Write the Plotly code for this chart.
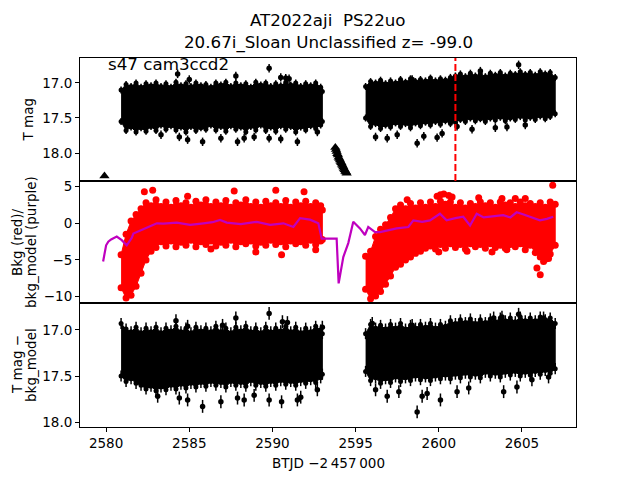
import plotly.graph_objects as go
from plotly.subplots import make_subplots

# ---------------- data ----------------
seg1_t = [2580.9, 2581.2, 2581.5, 2581.8, 2582.1, 2582.4, 2582.7, 2583.0, 2583.3, 2583.6,
          2583.9, 2584.2, 2584.5, 2584.8, 2585.1, 2585.4, 2585.7, 2586.0, 2586.3, 2586.6,
          2586.9, 2587.2, 2587.5, 2587.8, 2588.1, 2588.4, 2588.7, 2589.0, 2589.3, 2589.6,
          2589.9, 2590.2, 2590.5, 2590.8, 2591.1, 2591.4, 2591.7, 2592.0, 2592.3, 2592.6,
          2592.9, 2593.0]
seg2_t = [2595.6, 2595.9, 2596.2, 2596.5, 2596.8, 2597.1, 2597.4, 2597.7, 2598.0, 2598.3,
          2598.6, 2598.9, 2599.2, 2599.5, 2599.8, 2600.1, 2600.4, 2600.7, 2601.0, 2601.3,
          2601.6, 2601.9, 2602.2, 2602.5, 2602.8, 2603.1, 2603.4, 2603.7, 2604.0, 2604.3,
          2604.6, 2604.9, 2605.2, 2605.5, 2605.8, 2606.1, 2606.4, 2606.7, 2607.0]

# Panel 1: T mag envelope (bright edge / faint edge)
tmag1_hi = [17.10, 17.02, 17.05, 17.00, 17.06, 17.01, 17.04, 17.00, 17.05, 17.01,
            17.06, 16.99, 17.04, 17.01, 17.05, 17.00, 17.04, 17.02, 17.06, 17.00,
            17.03, 16.99, 17.05, 17.00, 17.04, 17.01, 17.06, 16.99, 17.03, 17.00,
            17.05, 17.01, 17.04, 16.99, 17.03, 17.00, 17.05, 17.01, 17.04, 17.00,
            17.06, 17.12]
tmag1_lo = [17.55, 17.68, 17.63, 17.70, 17.64, 17.69, 17.62, 17.68, 17.60, 17.66,
            17.61, 17.67, 17.63, 17.70, 17.62, 17.68, 17.64, 17.66, 17.60, 17.67,
            17.62, 17.69, 17.61, 17.66, 17.63, 17.70, 17.62, 17.67, 17.60, 17.68,
            17.63, 17.69, 17.61, 17.66, 17.62, 17.70, 17.63, 17.67, 17.61, 17.65,
            17.60, 17.55]
tmag2_hi = [17.05, 16.98, 17.00, 16.96, 17.01, 16.97, 17.00, 16.95, 16.99, 16.94,
            16.98, 16.95, 16.97, 16.93, 16.97, 16.94, 16.96, 16.92, 16.90, 16.87,
            16.91, 16.86, 16.90, 16.87, 16.91, 16.86, 16.89, 16.85, 16.90, 16.86,
            16.88, 16.84, 16.88, 16.85, 16.89, 16.84, 16.87, 16.85, 16.92]
tmag2_lo = [17.50, 17.62, 17.58, 17.65, 17.60, 17.63, 17.57, 17.62, 17.58, 17.64,
            17.57, 17.61, 17.56, 17.60, 17.55, 17.59, 17.54, 17.58, 17.56, 17.52,
            17.55, 17.50, 17.54, 17.51, 17.55, 17.50, 17.53, 17.49, 17.54, 17.50,
            17.52, 17.48, 17.53, 17.49, 17.52, 17.47, 17.51, 17.48, 17.44]
tmag_out_t = [2584.3, 2587.8, 2589.8, 2590.5, 2590.8, 2591.0, 2585.0, 2604.8, 2602.5, 2598.4,
              2583.3, 2584.4, 2584.9, 2585.8, 2586.9, 2587.9, 2588.3, 2588.9, 2589.8, 2590.5,
              2591.5, 2592.7, 2596.2, 2596.9, 2597.5, 2598.7, 2599.1, 2599.9, 2600.2, 2601.1,
              2602.0, 2603.4, 2604.1, 2605.2]
tmag_out_v = [16.87, 16.90, 16.79, 16.92, 16.93, 16.94, 16.95, 16.74, 16.83, 16.95,
              17.74, 17.77, 17.81, 17.84, 17.79, 17.84, 17.79, 17.77, 17.79, 17.80,
              17.84, 17.70, 17.77, 17.79, 17.74, 17.86, 17.76, 17.78, 17.72, 17.62,
              17.66, 17.64, 17.63, 17.60]
lim_single_t = [2579.9]
lim_single_v = [18.33]
lim_run_t = [2593.78, 2593.82, 2593.86, 2593.90, 2593.94, 2593.98, 2594.02, 2594.06, 2594.10,
             2594.14, 2594.18, 2594.22, 2594.26, 2594.30, 2594.34, 2594.38, 2594.42, 2594.46]
lim_run_v = [17.92, 17.95, 17.98, 18.01, 18.03, 18.06, 18.08, 18.10, 18.12,
             18.14, 18.16, 18.18, 18.20, 18.22, 18.24, 18.26, 18.27, 18.29]
event_t = 2601.0

# Panel 2: background (red) envelope and model (purple)
bkg1_hi = [-4.3, -1.5, 0.3, 1.2, 2.0, 2.8, 2.4, 3.2, 2.3, 2.9,
           2.2, 3.1, 2.4, 2.8, 2.2, 3.0, 2.5, 3.2, 2.3, 2.9,
           2.4, 3.1, 2.2, 2.8, 2.5, 3.2, 2.3, 2.9, 2.2, 3.0,
           2.4, 2.8, 2.3, 3.1, 2.2, 2.9, 2.4, 3.0, 2.3, 2.8,
           2.4, 1.8]
bkg1_lo = [-8.8, -10.2, -9.8, -8.6, -6.8, -5.0, -3.8, -3.3, -2.5, -3.1,
           -2.4, -3.2, -2.6, -3.0, -2.3, -3.2, -2.5, -2.9, -2.4, -3.1,
           -2.6, -3.0, -2.3, -3.2, -2.5, -2.8, -2.4, -3.1, -2.6, -3.0,
           -2.3, -2.9, -2.5, -3.2, -2.4, -2.8, -2.5, -3.0, -2.3, -2.9,
           -2.4, -2.2]
bkg2_hi = [-4.5, -3.8, -1.8, -0.8, -0.2, 0.8, 2.0, 2.5, 2.0, 2.7,
           2.1, 2.8, 2.2, 2.9, 2.3, 3.0, 2.6, 2.9, 2.2, 2.8,
           2.1, 2.7, 2.3, 2.9, 2.4, 2.8, 2.2, 2.9, 2.5, 2.8,
           2.3, 2.9, 2.4, 2.7, 2.3, 2.8, 2.2, 2.9, 2.6]
bkg2_lo = [-9.0, -10.3, -9.9, -9.3, -8.3, -7.2, -6.0, -5.6, -5.0, -4.6,
           -4.1, -3.8, -3.4, -3.1, -3.5, -2.9, -3.4, -2.8, -3.3, -2.9,
           -3.5, -2.8, -3.2, -2.9, -3.4, -2.8, -3.3, -3.0, -3.4, -2.9,
           -3.2, -2.8, -3.6, -3.0, -4.0, -4.6, -4.9, -4.2, -3.0]
bkg_out_t = [2582.3, 2582.8, 2587.7, 2590.2, 2591.9, 2584.9, 2589.0, 2590.55, 2592.6, 2586.3,
             2599.9, 2600.1, 2600.3, 2600.6, 2600.8, 2598.1, 2602.4, 2603.8, 2604.6, 2605.2,
             2606.85, 2605.9, 2606.1, 2606.3, 2606.6, 2600.0, 2601.7, 2603.2, 2604.1]
bkg_out_v = [4.3, 4.5, 4.4, 4.5, 4.3, 3.7, -3.9, -4.3, -3.6, -3.5,
             3.7, 3.9, 4.0, 3.8, 3.6, 3.2, 3.5, 3.4, 3.4, 3.4,
             5.2, -6.1, -7.0, -5.2, -4.8, -3.9, -3.8, -3.9, -3.6]
model_t = [2579.82, 2579.88, 2580.0, 2580.13, 2580.3, 2580.64, 2580.94, 2581.24, 2581.54, 2581.64,
           2582.04, 2582.54, 2583.05, 2583.44, 2584.25, 2585.05, 2585.85, 2586.4, 2586.85, 2587.25,
           2588.1, 2589.06, 2589.86, 2590.66, 2591.26, 2591.66, 2592.26, 2592.76, 2592.96, 2593.86,
           2593.98, 2594.26, 2594.56, 2594.86, 2595.26, 2595.56, 2595.76, 2596.17, 2596.47, 2597.0,
           2597.47, 2598.17, 2598.47, 2599.0, 2599.47, 2600.07, 2600.47, 2601.0, 2601.47, 2601.88,
           2602.28, 2602.7, 2603.08, 2603.88, 2604.3, 2604.68, 2605.1, 2605.48, 2606.08, 2606.5,
           2606.88]
model_v = [-5.2, -4.3, -3.0, -2.5, -2.2, -1.8, -2.3, -3.0, -2.0, -1.4,
           -0.95, -0.5, 0.0, -0.05, 0.1, -0.2, 0.0, 0.15, 0.45, 0.1,
           -0.1, 0.2, -0.2, 0.0, -0.5, 0.7, 0.5, 0.0, -2.1, -2.1,
           -8.2, -4.6, -2.7, 0.2, -0.7, -1.6, -0.5, -1.2, -1.2, -0.9,
           -0.7, -0.5, 0.4, 0.2, 0.4, 1.3, 0.4, 0.7, 0.9, -0.3,
           1.3, 0.8, 0.9, 1.1, 0.8, 1.5, 1.2, 0.9, 0.4, 0.6,
           0.9]

# Panel 3: T mag - bkg_model envelope
diff1_hi = [16.93, 16.99, 17.02, 16.97, 17.03, 16.98, 17.02, 16.97, 17.03, 16.98,
            17.01, 16.96, 17.02, 16.98, 17.03, 16.97, 17.01, 16.98, 17.02, 16.96,
            17.02, 16.98, 17.03, 16.97, 17.01, 16.96, 17.02, 16.98, 17.03, 16.97,
            17.02, 16.98, 17.01, 16.96, 17.02, 16.97, 17.03, 16.98, 17.02, 16.96,
            17.00, 17.04]
diff1_lo = [17.50, 17.56, 17.53, 17.58, 17.60, 17.64, 17.61, 17.66, 17.62, 17.65,
            17.60, 17.64, 17.59, 17.63, 17.58, 17.62, 17.57, 17.61, 17.56, 17.60,
            17.57, 17.62, 17.56, 17.60, 17.57, 17.61, 17.55, 17.60, 17.57, 17.61,
            17.56, 17.60, 17.55, 17.59, 17.56, 17.60, 17.55, 17.58, 17.54, 17.57,
            17.52, 17.48]
diff2_hi = [17.04, 16.94, 16.98, 16.95, 16.99, 16.94, 16.98, 16.93, 16.99, 16.95,
            16.98, 16.94, 16.97, 16.93, 16.98, 16.94, 16.96, 16.90, 16.93, 16.89,
            16.92, 16.88, 16.93, 16.89, 16.92, 16.88, 16.91, 16.87, 16.90, 16.87,
            16.91, 16.86, 16.90, 16.87, 16.90, 16.86, 16.89, 16.87, 16.93]
diff2_lo = [17.45, 17.55, 17.52, 17.58, 17.53, 17.57, 17.51, 17.56, 17.52, 17.55,
            17.50, 17.54, 17.51, 17.55, 17.50, 17.53, 17.49, 17.53, 17.48, 17.52,
            17.47, 17.51, 17.48, 17.52, 17.46, 17.50, 17.47, 17.51, 17.46, 17.49,
            17.45, 17.50, 17.46, 17.49, 17.45, 17.48, 17.44, 17.47, 17.42]
diff_out_t = [2584.2, 2587.8, 2589.8, 2590.6, 2590.9, 2593.0, 2587.0, 2584.9, 2596.0, 2603.3,
              2603.8, 2604.8, 2606.3, 2598.4,
              2583.1, 2584.4, 2584.9, 2585.8, 2586.9, 2587.9, 2588.3, 2588.9, 2589.8, 2590.55,
              2591.5, 2591.7, 2592.7,
              2596.2, 2596.9, 2597.6, 2598.7, 2599.0, 2599.3, 2600.1, 2601.1, 2601.8, 2603.9,
              2604.7, 2605.6, 2606.6]
diff_out_v = [16.90, 16.87, 16.82, 16.91, 16.92, 16.97, 16.95, 16.96, 16.93, 16.87,
              16.86, 16.83, 16.87, 16.95,
              17.72, 17.74, 17.76, 17.83, 17.78, 17.74, 17.76, 17.71, 17.76, 17.78,
              17.76, 17.73, 17.65,
              17.65, 17.72, 17.67, 17.89, 17.72, 17.69, 17.76, 17.67, 17.63, 17.67,
              17.62, 17.54, 17.51]

# ---------------- figure ----------------
FONT = "DejaVu Sans"
BLACK = "#000000"
RED = "#ff0000"
MAG = "#bf00bf"

fig = make_subplots(rows=3, cols=1, shared_xaxes=True, vertical_spacing=0)


def band(t, hi, lo, color, row, msize, err):
    fig.add_trace(go.Scatter(x=t + t[::-1], y=hi + lo[::-1], mode="lines", fill="toself",
                             fillcolor=color, line=dict(color=color, width=1),
                             hoverinfo="skip", showlegend=False), row=row, col=1)
    fig.add_trace(go.Scatter(x=t + t, y=hi + lo, mode="markers",
                             marker=dict(color=color, size=msize, line=dict(width=0)),
                             error_y=dict(type="constant", value=err, color=color,
                                          thickness=1.5, width=0, visible=err > 0),
                             showlegend=False), row=row, col=1)


def points(t, v, color, row, msize, err):
    fig.add_trace(go.Scatter(x=t, y=v, mode="markers",
                             marker=dict(color=color, size=msize, line=dict(width=0)),
                             error_y=dict(type="constant", value=err, color=color,
                                          thickness=1.5, width=0, visible=err > 0),
                             showlegend=False), row=row, col=1)


# panel 1
band(seg1_t, tmag1_hi, tmag1_lo, BLACK, 1, 5, 0.05)
band(seg2_t, tmag2_hi, tmag2_lo, BLACK, 1, 5, 0.05)
points(tmag_out_t, tmag_out_v, BLACK, 1, 5.5, 0.06)
fig.add_trace(go.Scatter(x=lim_single_t, y=lim_single_v, mode="markers",
                         marker=dict(symbol="triangle-up", color=BLACK, size=9, line=dict(width=0)),
                         showlegend=False), row=1, col=1)
fig.add_trace(go.Scatter(x=lim_run_t, y=lim_run_v, mode="lines+markers",
                         line=dict(color=BLACK, width=5),
                         marker=dict(symbol="triangle-up", color=BLACK, size=9, line=dict(width=0)),
                         showlegend=False), row=1, col=1)

# panel 2
band(seg1_t, bkg1_hi, bkg1_lo, RED, 2, 7, 0)
band(seg2_t, bkg2_hi, bkg2_lo, RED, 2, 7, 0)
points(bkg_out_t, bkg_out_v, RED, 2, 7, 0)
fig.add_trace(go.Scatter(x=model_t, y=model_v, mode="lines",
                         line=dict(color=MAG, width=2.2), showlegend=False), row=2, col=1)

# panel 3
band(seg1_t, diff1_hi, diff1_lo, BLACK, 3, 5, 0.06)
band(seg2_t, diff2_hi, diff2_lo, BLACK, 3, 5, 0.06)
points(diff_out_t, diff_out_v, BLACK, 3, 5.5, 0.07)

# event marker
fig.add_shape(type="line", xref="x", yref="y domain", x0=event_t, x1=event_t, y0=0, y1=1,
              line=dict(color=RED, width=2, dash="7px,3px"))

# layout geometry: the page body adds an 8px offset, so the figure is 624x464
L, R, T, B = 72, 56, 50, 45
H = 464 - T - B
W = 624 - L - R
p1_bot = (427 - 181) / H
p2_bot = (427 - 303) / H

axis_common = dict(showline=True, linecolor=BLACK, linewidth=1, mirror=True,
                   showgrid=False, zeroline=False, ticks="outside", ticklen=4,
                   tickwidth=1, tickcolor=BLACK,
                   tickfont=dict(family=FONT, size=13.5, color=BLACK))

xr = [2578.43, 2608.25]
fig.update_layout(
    xaxis=dict(axis_common, range=xr, showticklabels=False, ticks=""),
    xaxis2=dict(axis_common, range=xr, showticklabels=False, ticks=""),
    xaxis3=dict(axis_common, range=xr, tickvals=[2580, 2585, 2590, 2595, 2600, 2605]),
    yaxis=dict(axis_common, domain=[p1_bot, 1], range=[18.40, 16.643],
               tickvals=[17.0, 17.5, 18.0], tickformat=".1f"),
    yaxis2=dict(axis_common, domain=[p2_bot, p1_bot], range=[-10.87, 5.77],
                tickvals=[5, 0, -5, -10]),
    yaxis3=dict(axis_common, domain=[0, p2_bot], range=[18.054, 16.707],
                tickvals=[17.0, 17.5, 18.0], tickformat=".1f"),
)


# positions below are in reference-image pixels; plot area spans x 80..576, y 58..427
def ypix(py):
    return (427 - py) / H


def xpix(px):
    return (px - 80) / W


ann = []
ann.append(dict(text="AT2022aji  PS22uo", x=xpix(328), y=ypix(20), size=16.7))
ann.append(dict(text="20.67i_Sloan Unclassified z= -99.0", x=xpix(328), y=ypix(43), size=16.7))
ann.append(dict(text="BTJD \u22122\u2009457\u2009000", x=xpix(328), y=ypix(463), size=13.5))
annotations = []
for a in ann:
    annotations.append(dict(text=a["text"], xref="paper", yref="paper", x=a["x"], y=a["y"],
                            xanchor="center", yanchor="middle", showarrow=False,
                            font=dict(family=FONT, size=a["size"], color=BLACK)))
ylabels = [("T mag", 28, 119.5), ("Bkg (red)/", 17, 242), ("bkg_model (purple)", 31, 242),
           ("T mag \u2212", 17, 365), ("bkg_model", 31, 365)]
for txt, px, py in ylabels:
    annotations.append(dict(text=txt, xref="paper", yref="paper", x=xpix(px), y=ypix(py),
                            xanchor="center", yanchor="middle", textangle=-90, showarrow=False,
                            font=dict(family=FONT, size=13.5, color=BLACK)))
annotations.append(dict(text="s47 cam3ccd2", xref="x", yref="paper", x=2580, y=ypix(64),
                        xanchor="left", yanchor="middle", showarrow=False,
                        font=dict(family=FONT, size=16.7, color=BLACK)))

fig.update_layout(width=624, height=464, margin=dict(l=L, r=R, t=T, b=B),
                  paper_bgcolor="white", plot_bgcolor="white",
                  annotations=annotations, showlegend=False)

fig.write_html("out.html")
